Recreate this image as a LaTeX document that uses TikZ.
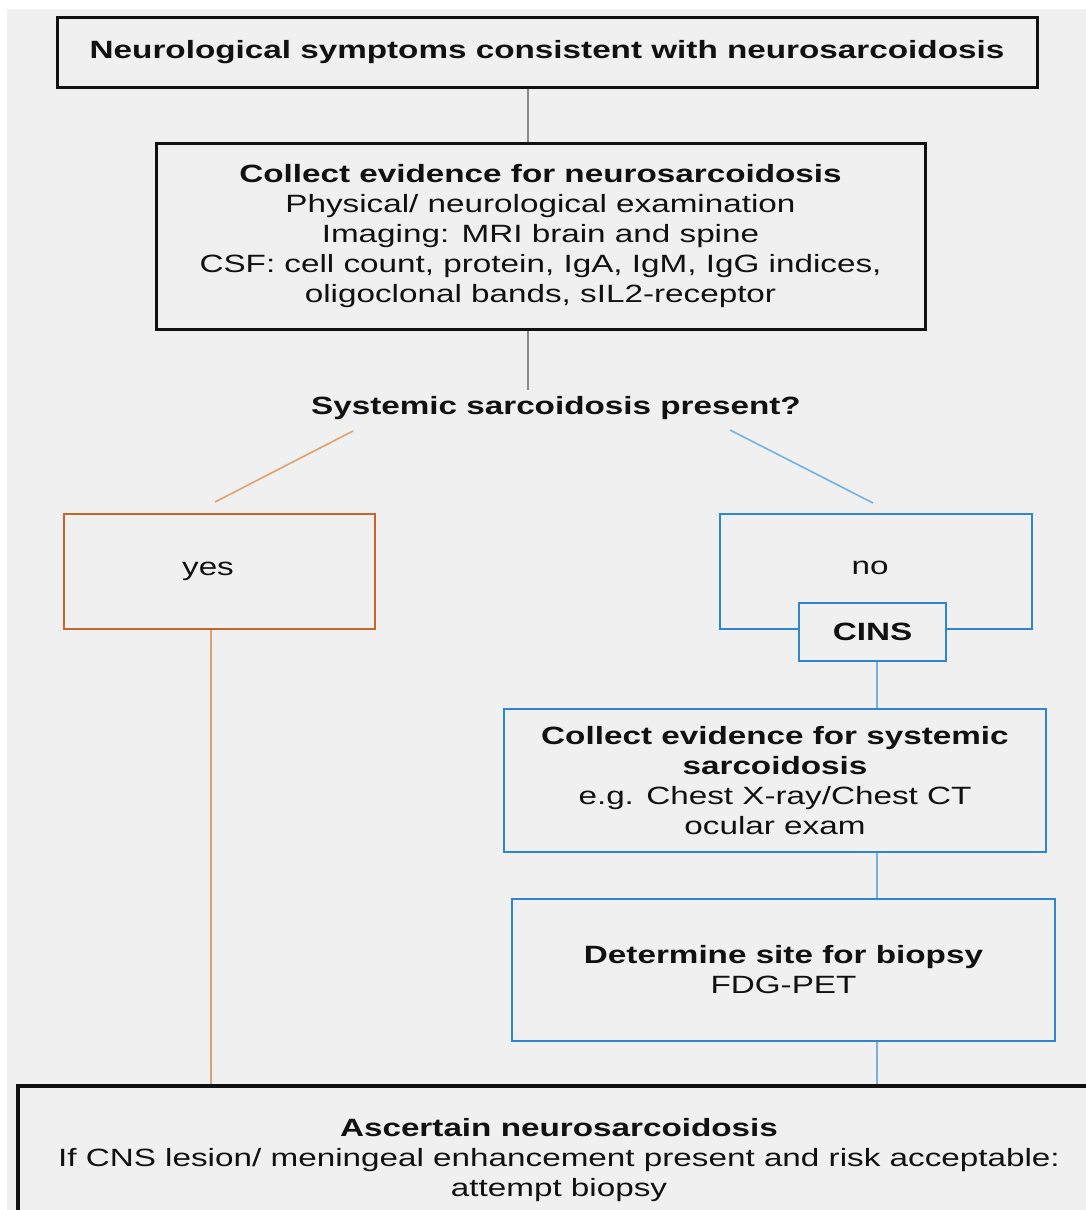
\documentclass[tikz,border=0pt]{standalone}
\usepackage{fontspec}
\setmainfont{Liberation Sans}[FakeStretch=1.33]
\definecolor{bgc}{HTML}{F0F0F0}
\definecolor{orc}{HTML}{C4662C}
\definecolor{orl}{HTML}{DDA270}
\definecolor{blc}{HTML}{2E86D0}
\definecolor{bll}{HTML}{74B2E2}
\definecolor{grl}{HTML}{8A8A8A}
\definecolor{ink}{HTML}{111111}
\begin{document}
\begin{tikzpicture}[x=1pt,y=-1pt,
  box/.style={rectangle, inner sep=0pt, align=center, text=ink,
    font=\fontsize{25}{30}\selectfont},
  blackbox/.style={box, draw=ink, line width=3pt},
  orangebox/.style={box, draw=orc, line width=2.6pt},
  bluebox/.style={box, draw=blc, line width=2.4pt},
  plain/.style={inner sep=0pt, align=center, text=ink, font=\fontsize{25}{30}\selectfont},
  grayline/.style={draw=grl, line width=1.8pt},
  orline/.style={draw=orl, line width=1.6pt},
  blline/.style={draw=bll, line width=1.6pt}]
\fill[white] (0,0) rectangle (1086,1210);
\fill[bgc] (7,9) rectangle (1086,1210);
\useasboundingbox (0,0) rectangle (1086,1210);

\node[blackbox, minimum width=980pt, minimum height=70pt] (b1) at (547,52)
  {\textbf{Neurological symptoms consistent with neurosarcoidosis}};
\node[blackbox, minimum width=769pt, minimum height=186pt] (b2) at (540.5,236)
  {\textbf{Collect evidence for neurosarcoidosis}\\
   Physical/ neurological examination\\
   Imaging: MRI brain and spine\\
   CSF: cell count, protein, IgA, IgM, IgG indices,\\
   oligoclonal bands, sIL2-receptor};
\node[plain] (q) at (556,408) {\textbf{Systemic sarcoidosis present?}};

\node[orangebox, minimum width=311pt, minimum height=115pt] (yes) at (219.5,571.5) {};
\node[plain] (yest) at (208,571) {yes};
\node[bluebox, minimum width=312pt, minimum height=115pt] (no) at (876,571.5) {};
\node[plain] (not) at (870,568) {no};
\node[bluebox, fill=bgc, minimum width=147pt, minimum height=58pt] (cins) at (872.5,632)
  {\textbf{CINS}};
\node[bluebox, minimum width=542pt, minimum height=143pt] (c2) at (775,780.5)
  {\textbf{Collect evidence for systemic}\\
   \textbf{sarcoidosis}\\
   e.g. Chest X-ray/Chest CT\\
   ocular exam};
\node[bluebox, minimum width=543pt, minimum height=142pt] (det) at (783.5,970)
  {\textbf{Determine site for biopsy}\\ FDG-PET};
\node[blackbox, line width=3.4pt, minimum width=1082pt, minimum height=148pt] (asc) at (559,1160)
  {\textbf{Ascertain neurosarcoidosis}\\
   If CNS lesion/ meningeal enhancement present and risk acceptable:\\
   attempt biopsy};

\coordinate (gx) at (528,0);
\coordinate (qe) at (528,390);
\coordinate (oa) at (353,431);
\coordinate (ob) at (215,502);
\coordinate (ba) at (730,430);
\coordinate (bb) at (873,503);
\coordinate (ox) at (211,0);
\coordinate (bx) at (877,0);

\draw[grayline] (gx |- b1.south) -- (gx |- b2.north);
\draw[grayline] (gx |- b2.south) -- (qe);
\draw[orline] (oa) -- (ob);
\draw[blline] (ba) -- (bb);
\draw[orline] (ox |- yes.south) -- (ox |- asc.north);
\draw[blline] (bx |- cins.south) -- (bx |- c2.north);
\draw[blline] (bx |- c2.south) -- (bx |- det.north);
\draw[blline] (bx |- det.south) -- (bx |- asc.north);
\end{tikzpicture}
\end{document}
